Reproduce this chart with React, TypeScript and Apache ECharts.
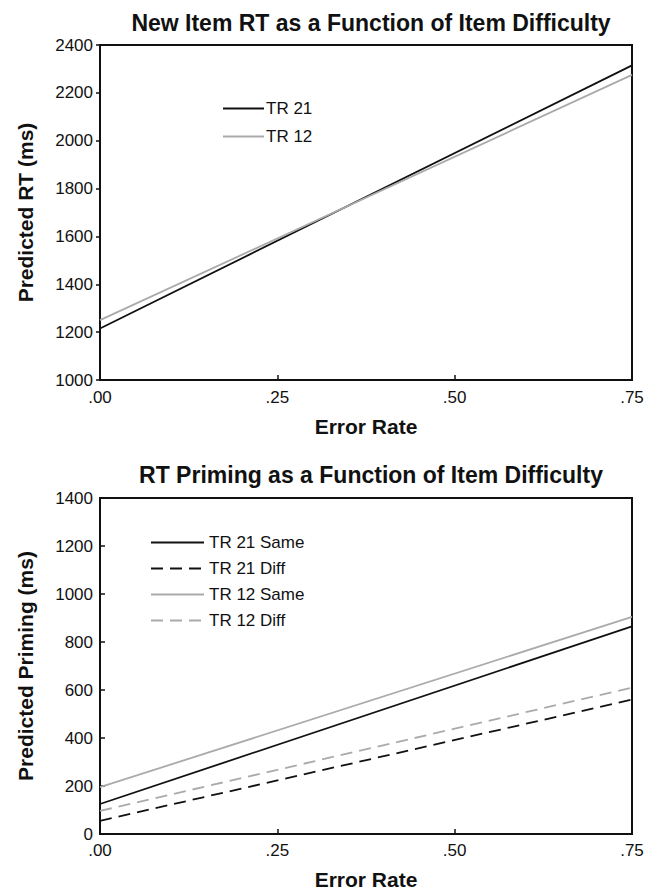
import React, { useEffect, useRef } from "react";
import * as echarts from "echarts";

const errorRates = [0, 0.75];
const xTicks = [0, 0.25, 0.5, 0.75];
const newTR21 = [1215, 2315];
const newTR12 = [1250, 2275];
const primTR21Same = [125, 865];
const primTR21Diff = [55, 560];
const primTR12Same = [195, 905];
const primTR12Diff = [96, 610];

const BLACK = "#111111";
const GRAY = "#aaaaaa";
const FONT = "'Liberation Sans', Arial, sans-serif";

const pair = (ys: number[]) => errorRates.map((x, i) => [x, ys[i]]);

export default function App() {
  const ref = useRef<HTMLDivElement>(null);
  useEffect(() => {
    if (!ref.current) return;
    const chart = echarts.init(ref.current, undefined, { renderer: "svg" });
    const xAxisBase = (gridIndex: number, nameGap: number, margin: number) => ({
      type: "value",
      gridIndex,
      min: 0,
      max: 0.75,
      interval: 0.25,
      name: "Error Rate",
      nameLocation: "middle",
      nameGap,
      nameTextStyle: { fontFamily: FONT, fontWeight: "bold", fontSize: 21, color: BLACK },
      axisLine: { show: true, lineStyle: { color: BLACK, width: 2 } },
      axisTick: { show: true, inside: true, length: 5, lineStyle: { color: BLACK, width: 1.5 } },
      axisLabel: {
        fontFamily: FONT,
        fontSize: 17,
        color: BLACK,
        margin,
        formatter: (v: number) => (xTicks.includes(v) ? v.toFixed(2).replace(/^0/, "") : ""),
      },
      splitLine: { show: false },
    });
    const yAxisBase = (
      gridIndex: number,
      name: string,
      min: number,
      max: number,
      interval: number,
      tickInside: boolean
    ) => ({
      type: "value",
      gridIndex,
      min,
      max,
      interval,
      name,
      nameLocation: "middle",
      nameGap: 64,
      nameTextStyle: { fontFamily: FONT, fontWeight: "bold", fontSize: 21, color: BLACK },
      axisLine: { show: true, lineStyle: { color: BLACK, width: 2 } },
      axisTick: { show: true, inside: tickInside, length: tickInside ? 5 : 4, lineStyle: { color: BLACK, width: 1.5 } },
      axisLabel: { fontFamily: FONT, fontSize: 17, color: BLACK, margin: 7, formatter: (v: number) => String(v) },
      splitLine: { show: false },
    });
    const line = (name: string, data: number[], color: string, dashed: boolean, idx: number) => ({
      type: "line",
      name,
      xAxisIndex: idx,
      yAxisIndex: idx,
      data: pair(data),
      symbol: "none",
      lineStyle: { color, width: 1.8, type: dashed ? [12, 7] : "solid" },
      itemStyle: { color },
    });
    chart.setOption({
      animation: false,
      backgroundColor: "#ffffff",
      title: [
        {
          text: "New Item RT as a Function of Item Difficulty",
          left: 366,
          top: 6,
          textAlign: "center",
          textStyle: { fontFamily: FONT, fontWeight: "bold", fontSize: 23, color: BLACK },
        },
        {
          text: "RT Priming as a Function of Item Difficulty",
          left: 366,
          top: 458,
          textAlign: "center",
          textStyle: { fontFamily: FONT, fontWeight: "bold", fontSize: 23, color: BLACK },
        },
      ],
      grid: [
        { left: 100, width: 532, top: 45, height: 335, show: true, borderColor: BLACK, borderWidth: 2, backgroundColor: "transparent" },
        { left: 100, width: 532, top: 498, height: 337, show: true, borderColor: BLACK, borderWidth: 2, backgroundColor: "transparent" },
      ],
      xAxis: [xAxisBase(0, 36, 9), xAxisBase(1, 35, 8)],
      yAxis: [
        yAxisBase(0, "Predicted RT (ms)", 1000, 2400, 200, false),
        yAxisBase(1, "Predicted Priming (ms)", 0, 1400, 200, true),
      ],
      legend: [
        {
          data: ["TR 21", "TR 12"],
          orient: "vertical",
          left: 217,
          top: 95,
          itemWidth: 41,
          itemHeight: 14,
          itemGap: 11,
          itemStyle: { opacity: 0 },
          textStyle: { fontFamily: FONT, fontSize: 17, color: BLACK, padding: [0, 0, 0, -3] },
          selectedMode: false,
        },
        {
          data: ["TR 21 Same", "TR 21 Diff", "TR 12 Same", "TR 12 Diff"],
          orient: "vertical",
          left: 145,
          top: 529,
          itemWidth: 53,
          itemHeight: 14,
          itemGap: 9,
          itemStyle: { opacity: 0 },
          textStyle: { fontFamily: FONT, fontSize: 17, color: BLACK },
          selectedMode: false,
        },
      ],
      series: [
        line("TR 21", newTR21, BLACK, false, 0),
        line("TR 12", newTR12, GRAY, false, 0),
        line("TR 21 Same", primTR21Same, BLACK, false, 1),
        line("TR 21 Diff", primTR21Diff, BLACK, true, 1),
        line("TR 12 Same", primTR12Same, GRAY, false, 1),
        line("TR 12 Diff", primTR12Diff, GRAY, true, 1),
      ],
    });
    return () => chart.dispose();
  }, []);
  return (
    <div
      ref={ref}
      style={{ position: "absolute", left: 0, top: 0, width: 657, height: 891 }}
    />
  );
}
